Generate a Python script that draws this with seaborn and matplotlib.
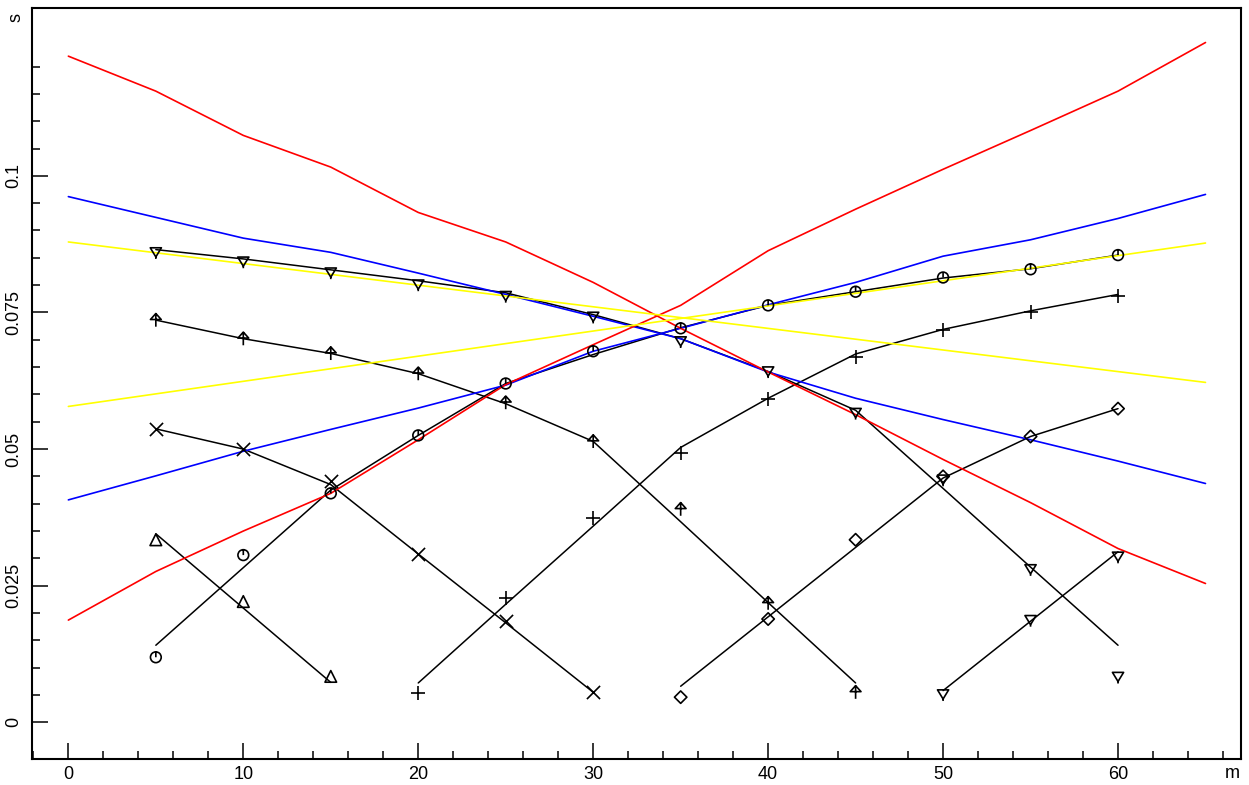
import matplotlib
matplotlib.use("Agg")
import matplotlib.pyplot as plt
from matplotlib.path import Path
from matplotlib.ticker import MultipleLocator, FixedLocator
import numpy as np
import seaborn as sns

# --- datos ---
x_all = [0, 5, 10, 15, 20, 25, 30, 35, 40, 45, 50, 55, 60, 65]
red_down = [0.1219, 0.1155, 0.1074, 0.1016, 0.0933, 0.0879, 0.0805,
            0.0721, 0.0641, 0.0563, 0.0481, 0.0402, 0.0318, 0.0254]
red_up = [0.0187, 0.0276, 0.0350, 0.0419, 0.0517, 0.0618, 0.0691,
          0.0763, 0.0863, 0.0939, 0.1012, 0.1083, 0.1155, 0.1244]
blue_down = [0.0962, 0.0924, 0.0886, 0.0860, 0.0822, 0.0783, 0.0743,
             0.0702, 0.0641, 0.0593, 0.0554, 0.0517, 0.0478, 0.0437]
blue_up = [0.0407, 0.0451, 0.0496, 0.0536, 0.0575, 0.0617, 0.0679,
           0.0721, 0.0764, 0.0805, 0.0853, 0.0883, 0.0922, 0.0966]
x_ends = [0, 65]
yellow_down = [0.0879, 0.0622]
yellow_up = [0.0578, 0.0877]

# series negras: posiciones x, marcadores (medidos) y linea
tri_up_x = [5, 10, 15]
tri_up_pts = [0.0334, 0.0221, 0.0084]
tri_up_line = [0.0345, 0.0209, 0.0073]

circ_x = [5, 10, 15, 20, 25, 30, 35, 40, 45, 50, 55, 60]
circ_pts = [0.0119, 0.0306, 0.0419, 0.0525, 0.0620, 0.0679,
            0.0721, 0.0763, 0.0788, 0.0814, 0.0829, 0.0855]
circ_line = [0.0141, 0.0283, 0.0425, 0.0525, 0.0620, 0.0673,
             0.0722, 0.0763, 0.0788, 0.0813, 0.0830, 0.0855]

cross_x = [5, 10, 15, 20, 25, 30]
cross_pts = [0.0537, 0.0500, 0.0441, 0.0308, 0.0186, 0.0055]
cross_line = [0.0537, 0.0500, 0.0435, 0.0308, 0.0182, 0.0055]

arrow_x = [5, 10, 15, 20, 25, 30, 35, 40, 45]
arrow_pts = [0.0736, 0.0702, 0.0675, 0.0638, 0.0585, 0.0514, 0.0390, 0.0218, 0.0055]
arrow_line = [0.0736, 0.0702, 0.0675, 0.0638, 0.0583, 0.0514, 0.0367, 0.0219, 0.0072]

plus_x = [20, 25, 30, 35, 40, 45, 50, 55, 60]
plus_pts = [0.0053, 0.0227, 0.0374, 0.0493, 0.0591, 0.0668, 0.0717, 0.0751, 0.0780]
plus_line = [0.0072, 0.0216, 0.0359, 0.0503, 0.0593, 0.0674, 0.0719, 0.0753, 0.0783]

diam_x = [35, 40, 45, 50, 55, 60]
diam_pts = [0.0046, 0.0189, 0.0334, 0.0450, 0.0523, 0.0574]
diam_line = [0.0066, 0.0193, 0.0320, 0.0447, 0.0523, 0.0574]

tri_dn_x = [5, 10, 15, 20, 25, 30, 35, 40, 45, 50, 55, 60]
tri_dn_pts = [0.0860, 0.0843, 0.0823, 0.0801, 0.0780, 0.0742,
              0.0697, 0.0642, 0.0566, 0.0444, 0.0280, 0.0083]
tri_dn_line = [0.0865, 0.0848, 0.0828, 0.0808, 0.0786, 0.0746,
               0.0702, 0.0642, 0.0571, 0.0428, 0.0284, 0.0141]

tri_dn2_x = [50, 55, 60]
tri_dn2_pts = [0.0051, 0.0187, 0.0303]
tri_dn2_line = [0.0058, 0.0185, 0.0312]

x_major = [0, 10, 20, 30, 40, 50, 60]
y_major = [0, 0.025, 0.05, 0.075, 0.1]
y_labels = ["0", "0.025", "0.05", "0.075", "0.1"]

# marcadores con "tallo" vertical
MV, LT, CL = Path.MOVETO, Path.LINETO, Path.CLOSEPOLY
arrow_marker = Path([(-0.45, 0.05), (0.0, 0.55), (0.45, 0.05), (-0.45, 0.05),
                     (0.0, 0.55), (0.0, -0.55)],
                    [MV, LT, LT, CL, MV, LT])
tri_dn_marker = Path([(-0.55, 0.45), (0.55, 0.45), (0.0, -0.45), (-0.55, 0.45),
                      (0.0, -0.45), (0.0, -0.65)],
                     [MV, LT, LT, CL, MV, LT])
circ_marker = Path.make_compound_path(Path.unit_circle(),
                                      Path([(0.0, 1.0), (0.0, 0.0)], [MV, LT]))

sns.set_theme(style="ticks")
plt.rcParams['font.family'] = ['Liberation Sans', 'DejaVu Sans']
plt.rcParams['text.color'] = 'black'

fig = plt.figure(figsize=(12.49, 7.85), dpi=100)
ax = fig.add_axes([0.0256, 0.0331, 0.968, 0.9573])

black_series = [
    (tri_up_x, tri_up_line, tri_up_pts, "^", 70),
    (circ_x, circ_line, circ_pts, circ_marker, 60),
    (cross_x, cross_line, cross_pts, "x", 90),
    (arrow_x, arrow_line, arrow_pts, arrow_marker, 90),
    (plus_x, plus_line, plus_pts, "+", 105),
    (diam_x, diam_line, diam_pts, "D", 40),
    (tri_dn_x, tri_dn_line, tri_dn_pts, tri_dn_marker, 90),
    (tri_dn2_x, tri_dn2_line, tri_dn2_pts, tri_dn_marker, 90),
]

for xs, line, pts, mk, size in black_series:
    sns.lineplot(x=xs, y=line, color="black", linewidth=1.1, ax=ax, zorder=2)

sns.lineplot(x=x_all, y=blue_down, color="#0000ff", linewidth=1.2, ax=ax, zorder=3)
sns.lineplot(x=x_all, y=blue_up, color="#0000ff", linewidth=1.2, ax=ax, zorder=3)
sns.lineplot(x=x_all, y=red_down, color="#ff0000", linewidth=1.2, ax=ax, zorder=4)
sns.lineplot(x=x_all, y=red_up, color="#ff0000", linewidth=1.2, ax=ax, zorder=4)
sns.lineplot(x=x_ends, y=yellow_down, color="#ffff00", linewidth=1.2, ax=ax, zorder=5)
sns.lineplot(x=x_ends, y=yellow_up, color="#ffff00", linewidth=1.2, ax=ax, zorder=5)

for xs, line, pts, mk, size in black_series:
    if mk in ("x", "+"):
        sns.scatterplot(x=xs, y=pts, marker=mk, s=size, color="black",
                        linewidth=1.2, ax=ax, zorder=6)
    else:
        sns.scatterplot(x=xs, y=pts, marker=mk, s=size, color="black",
                        facecolor="none", edgecolor="black",
                        linewidth=1.2, ax=ax, zorder=6)

ax.set_xlim(-2.08, 67.03)
ax.set_ylim(-0.00672, 0.1308)
ax.set_xlabel("")
ax.set_ylabel("")

ax.xaxis.set_major_locator(FixedLocator(x_major))
ax.xaxis.set_minor_locator(MultipleLocator(2))
ax.yaxis.set_major_locator(FixedLocator(y_major))
ax.yaxis.set_minor_locator(FixedLocator(np.arange(0, 0.1201, 0.005)))
ax.set_yticklabels(y_labels)

ax.tick_params(which="both", direction="in", color="black", width=1.1,
               top=False, right=False, labelcolor="black")
ax.tick_params(which="major", length=11.5, labelsize=13)
ax.tick_params(which="minor", length=5.8)
ax.tick_params(axis="x", pad=5)
ax.tick_params(axis="y", pad=7, labelrotation=90)
for lbl in ax.get_yticklabels():
    lbl.set_va("center")

for sp in ax.spines.values():
    sp.set_visible(True)
    sp.set_color("black")
    sp.set_linewidth(1.5)

fig.text(1232 / 1249, 1 - 774 / 785, "m", fontsize=13, ha="center", va="center",
         color="black")
fig.text(16 / 1249, 1 - 17 / 785, "s", fontsize=13, ha="center", va="center",
         rotation=90, color="black")

fig.savefig("out.png", dpi=100)
